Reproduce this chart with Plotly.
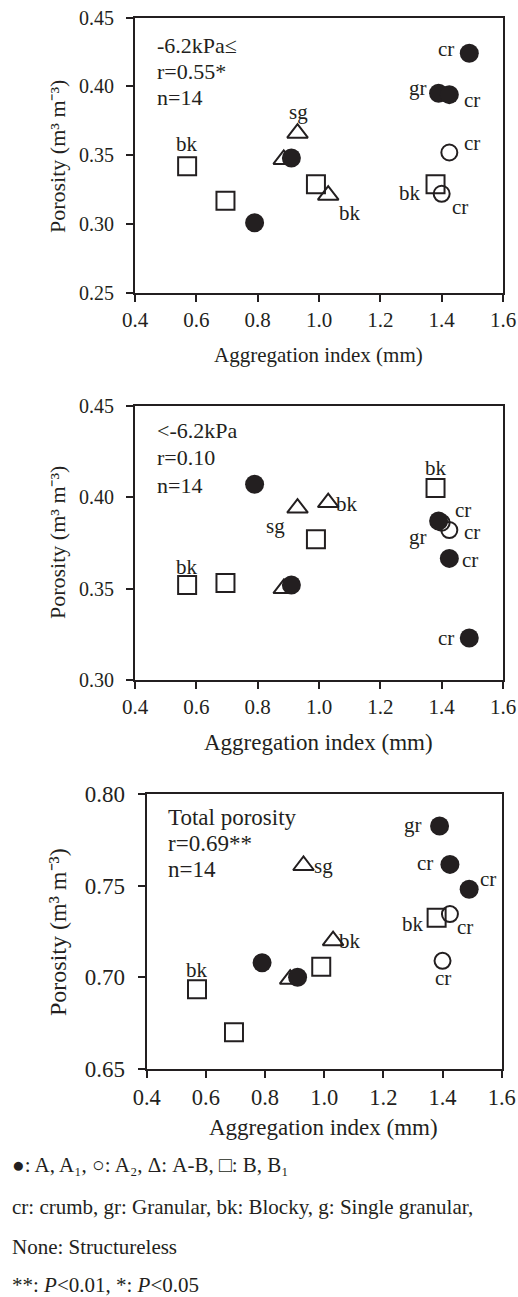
import plotly.graph_objects as go

# Aggregation index (mm) for each horizon group (shared by all three panels)
agg_A = [0.79, 0.91, 1.39, 1.425, 1.49]      # ● A, A1
agg_A2 = [1.40, 1.425]                       # ○ A2
agg_AB = [0.885, 0.93, 1.03]                 # △ A-B
agg_B = [0.57, 0.695, 0.99, 1.38]            # □ B, B1

# Porosity, -6.2 kPa ≤
p1_A = [0.301, 0.348, 0.395, 0.394, 0.424]
p1_A2 = [0.322, 0.352]
p1_AB = [0.347, 0.366, 0.321]
p1_B = [0.342, 0.317, 0.329, 0.329]

# Porosity, < -6.2 kPa
p2_A = [0.407, 0.352, 0.387, 0.3665, 0.323]
p2_A2 = [0.386, 0.382]
p2_AB = [0.350, 0.394, 0.397]
p2_B = [0.352, 0.353, 0.377, 0.405]

# Total porosity
p3_A = [0.708, 0.700, 0.7825, 0.7616, 0.748]
p3_A2 = [0.709, 0.7345]
p3_AB = [0.699, 0.761, 0.720]
p3_B = [0.6935, 0.670, 0.7058, 0.7325]

x_ticks = [0.4, 0.6, 0.8, 1.0, 1.2, 1.4, 1.6]

# Structure labels: (group, index, text, dx px, dy px)
labels1 = [("A", 4, "cr", -23, 4), ("A", 2, "gr", -21, 5), ("A", 3, "cr", 23, -5),
           ("A2", 1, "cr", 23, 9), ("B", 3, "bk", -26, -9), ("A2", 0, "cr", 18, -13),
           ("B", 0, "bk", 0, 22), ("AB", 1, "sg", 1, 21), ("AB", 2, "bk", 22, -18)]
labels2 = [("B", 3, "bk", 0, 20), ("A2", 0, "cr", 21, 13), ("A", 2, "gr", -21, -16),
           ("A2", 1, "cr", 23, -2), ("A", 3, "cr", 21, -2), ("A", 4, "cr", -23, 0),
           ("AB", 1, "sg", -22, -18), ("AB", 2, "bk", 19, -1), ("B", 0, "bk", 0, 18)]
labels3 = [("A", 2, "gr", -27, 1), ("A", 3, "cr", -25, 1), ("A", 4, "cr", 19, 10),
           ("B", 3, "bk", -24, -6), ("A2", 1, "cr", 15, -13), ("A2", 0, "cr", 0, -17),
           ("AB", 1, "sg", 20, 0), ("AB", 2, "bk", 17, 0), ("B", 0, "bk", 0, 19)]

W, H = 518, 1297
INK = "#231f20"
FONT = "Liberation Serif"


def px_x(p):
    return p / W


def px_y(p):
    return 1 - p / H


panels = [
    dict(n="", ys=dict(A=p1_A, A2=p1_A2, AB=p1_AB, B=p1_B), labels=labels1,
         xdom=(135, 503), ydom=(17.5, 293), yr=[0.25, 0.45], yt=[0.25, 0.30, 0.35, 0.40, 0.45],
         info=["-6.2kPa≤", "r=0.55*", "n=14"], info_xy=(155, 45, 26),
         xfs=21, yfs=20, lfs=21, ifs=22,
         xt_y=355, yt_x=57, yt_y=157, tfs=21, ytfs=22),
    dict(n="2", ys=dict(A=p2_A, A2=p2_A2, AB=p2_AB, B=p2_B), labels=labels2,
         xdom=(135, 503), ydom=(405.7, 680), yr=[0.30, 0.45], yt=[0.30, 0.35, 0.40, 0.45],
         info=["&lt;-6.2kPa", "r=0.10", "n=14"], info_xy=(155, 431, 27),
         xfs=21, yfs=20, lfs=21, ifs=22,
         xt_y=742, yt_x=57, yt_y=543, tfs=23, ytfs=22),
    dict(n="3", ys=dict(A=p3_A, A2=p3_A2, AB=p3_AB, B=p3_B), labels=labels3,
         xdom=(146.7, 501.7), ydom=(794, 1069), yr=[0.65, 0.80], yt=[0.65, 0.70, 0.75, 0.80],
         info=["Total porosity", "r=0.69**", "n=14"], info_xy=(166, 817, 26),
         xfs=22.5, yfs=23, lfs=21, ifs=23,
         xt_y=1127, yt_x=58, yt_y=932, tfs=23, ytfs=24),
]

xs = dict(A=agg_A, A2=agg_A2, AB=agg_AB, B=agg_B)
styles = {
    "AB": dict(symbol="triangle-up-open", size=18, color=INK, line=dict(color=INK, width=2)),
    "B": dict(symbol="square-open", size=18, color=INK, line=dict(color=INK, width=2)),
    "A2": dict(symbol="circle-open", size=16, color=INK, line=dict(color=INK, width=2)),
    "A": dict(symbol="circle", size=19, color=INK, line=dict(width=0)),
}

fig = go.Figure()
layout = dict(width=W, height=H, margin=dict(l=0, r=0, t=0, b=0, autoexpand=False),
              paper_bgcolor="white", plot_bgcolor="white", showlegend=False,
              font=dict(family=FONT, color=INK))
annotations = []

for p in panels:
    n = p["n"]
    xa, ya = "x" + n, "y" + n
    for g in ["AB", "B", "A2", "A"]:
        fig.add_trace(go.Scatter(x=xs[g], y=p["ys"][g], mode="markers", marker=styles[g],
                                 xaxis=xa, yaxis=ya, hoverinfo="skip"))
    layout["xaxis" + n] = dict(domain=[px_x(p["xdom"][0]), px_x(p["xdom"][1])], anchor=ya,
                               range=[0.4, 1.6], tickvals=x_ticks, tickformat=".1f",
                               showline=True, linecolor=INK, linewidth=2, mirror=True,
                               ticks="outside", ticklen=7, tickwidth=1.5, tickcolor=INK,
                               showgrid=False, zeroline=False, automargin=False,
                               tickfont=dict(family=FONT, size=p["xfs"], color=INK))
    layout["yaxis" + n] = dict(domain=[px_y(p["ydom"][1]), px_y(p["ydom"][0])], anchor=xa,
                               range=p["yr"], tickvals=p["yt"], tickformat=".2f",
                               showline=True, linecolor=INK, linewidth=2, mirror=True,
                               ticks="outside", ticklen=7, tickwidth=1.5, tickcolor=INK,
                               showgrid=False, zeroline=False, ticklabelstandoff=8,
                               automargin=False,
                               tickfont=dict(family=FONT, size=p["yfs"], color=INK))
    # point labels
    for g, i, t, dx, dy in p["labels"]:
        annotations.append(dict(x=xs[g][i], y=p["ys"][g][i], xref=xa, yref=ya, text=t,
                                showarrow=False, xshift=dx, yshift=dy,
                                font=dict(family=FONT, size=p["lfs"], color=INK)))
    # panel info
    ix, iy, dyl = p["info_xy"]
    for k, line in enumerate(p["info"]):
        annotations.append(dict(x=px_x(ix), y=px_y(iy + k * dyl), xref="paper", yref="paper",
                                text=line, showarrow=False, xanchor="left", yanchor="middle",
                                font=dict(family=FONT, size=p["ifs"], color=INK)))
    # axis titles
    xc = (p["xdom"][0] + p["xdom"][1]) / 2
    annotations.append(dict(x=px_x(xc - 1), y=px_y(p["xt_y"]), xref="paper", yref="paper",
                            text="Aggregation index (mm)", showarrow=False,
                            xanchor="center", yanchor="middle",
                            font=dict(family=FONT, size=p["tfs"], color=INK)))
    annotations.append(dict(x=px_x(p["yt_x"]), y=px_y(p["yt_y"]), xref="paper", yref="paper",
                            text="Porosity (m³ m⁻³)", showarrow=False,
                            textangle=-90, xanchor="center", yanchor="middle",
                            font=dict(family=FONT, size=p["ytfs"], color=INK)))

notes = [
    (1165, "●: A, A₁, ○: A₂, Δ: A-B, □: B, B₁"),
    (1207, "cr: crumb, gr: Granular, bk: Blocky, g: Single granular,"),
    (1247, "None: Structureless"),
    (1285, "**: <i>P</i>&lt;0.01, *: <i>P</i>&lt;0.05"),
]
for yy, t in notes:
    annotations.append(dict(x=px_x(10), y=px_y(yy), xref="paper", yref="paper", text=t,
                            showarrow=False, xanchor="left", yanchor="middle",
                            font=dict(family=FONT, size=21, color=INK)))

layout["annotations"] = annotations
fig.update_layout(**layout)
fig.write_html("out.html")
